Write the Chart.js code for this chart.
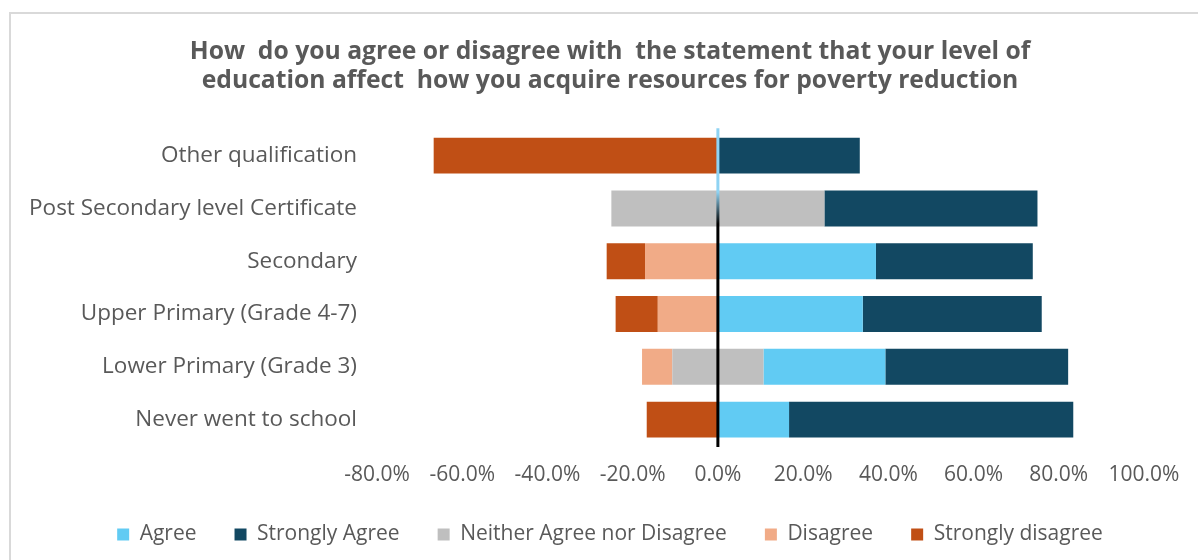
<!DOCTYPE html>
<html>
<head>
<meta charset="utf-8">
<script src="https://cdn.jsdelivr.net/npm/chart.js@4.4.1/dist/chart.umd.min.js"></script>
<style>
    html, body { margin: 0; padding: 0; background: #fff; overflow: hidden; width: 1198px; height: 560px; }
    #frame { position: absolute; left: 9px; top: 12px; width: 1300px; height: 700px; border-left: 2px solid #d9d9d9; border-top: 2px solid #d9d9d9; }
    #likert { position: absolute; left: 0; top: 0; }
</style>
</head>
<body>
<div id="frame"></div>
<canvas id="likert" width="1220" height="600"></canvas>
<script>
    const categories = [
        "Other qualification",
        "Post Secondary level Certificate",
        "Secondary",
        "Upper Primary (Grade 4-7)",
        "Lower Primary (Grade 3)",
        "Never went to school"
    ];
    // percentages per education level
    const agree = [0, 0, 37.1, 34.0, 28.6, 16.7];
    const stronglyAgree = [33.3, 50.0, 36.8, 42.0, 42.9, 66.7];
    const neither = [0, 50.0, 0, 0, 21.4, 0];
    const disagree = [0, 0, 17.1, 14.1, 7.1, 0];
    const stronglyDisagree = [66.7, 0, 9.0, 9.9, 0, 16.7];
    const xTicks = [-80, -60, -40, -20, 0, 20, 40, 60, 80, 100];
    const legendOrder = ["Agree", "Strongly Agree", "Neither Agree nor Disagree", "Disagree", "Strongly disagree"];

    const grey = "#595959";
    const font = "'Open Sans', 'Liberation Sans', sans-serif";
    const orNull = v => (v === 0 ? null : v);

    // neither is split half left / half right of zero
    const datasets = [
        { label: "Neither Agree nor Disagree", data: neither.map(v => orNull(-v / 2)), backgroundColor: "#bfbfbf" },
        { label: "Neither Agree nor Disagree", data: neither.map(v => orNull(v / 2)), backgroundColor: "#bfbfbf" },
        { label: "Agree", data: agree.map(orNull), backgroundColor: "#61cbf3" },
        { label: "Strongly Agree", data: stronglyAgree.map(orNull), backgroundColor: "#124862" },
        { label: "Disagree", data: disagree.map(v => orNull(-v)), backgroundColor: "#f1ab87" },
        { label: "Strongly disagree", data: stronglyDisagree.map(v => orNull(-v)), backgroundColor: "#c04f15" }
    ];

    const zeroLine = {
        id: "zeroLine",
        afterDatasetsDraw(chart) {
            const { ctx, chartArea, scales } = chart;
            const x = scales.x.getPixelForValue(0);
            const top = chartArea.top - 1, bottom = chartArea.bottom + 1;
            const g = ctx.createLinearGradient(0, top, 0, bottom);
            g.addColorStop(0, "#8fd3f3");
            g.addColorStop(0.2, "#8fd3f3");
            g.addColorStop(0.3, "#000000");
            g.addColorStop(1, "#000000");
            ctx.save();
            ctx.strokeStyle = g;
            ctx.lineWidth = 3;
            ctx.beginPath();
            ctx.moveTo(x, top);
            ctx.lineTo(x, bottom);
            ctx.stroke();
            ctx.restore();
        }
    };

    new Chart(document.querySelector("#likert"), {
        type: "bar",
        data: { labels: categories, datasets: datasets },
        plugins: [zeroLine],
        options: {
            responsive: false,
            animation: false,
            indexAxis: "y",
            layout: { padding: { left: 0, right: 0, top: 2, bottom: 45 } },
            datasets: { bar: { categoryPercentage: 0.68, barPercentage: 1 } },
            scales: {
                x: {
                    stacked: true,
                    min: -80,
                    max: 100,
                    grid: { display: false, drawTicks: false },
                    border: { display: false },
                    afterBuildTicks: s => { s.ticks = xTicks.map(v => ({ value: v })); },
                    afterFit: s => { s.height = 40; },
                    ticks: {
                        padding: 16,
                        color: grey,
                        font: { family: font, size: 21, lineHeight: 1.2 },
                        maxRotation: 0,
                        callback: v => v.toFixed(1) + "%"
                    }
                },
                y: {
                    stacked: true,
                    grid: { display: false, drawTicks: false },
                    border: { display: false },
                    afterFit: s => { s.width = 377; },
                    ticks: { padding: 20, color: grey, font: { family: font, size: 22.5 } }
                },
                // empty right-hand gutter so title and legend stay centred on the whole frame
                gutter: {
                    type: "category",
                    position: "right",
                    grid: { display: false, drawTicks: false },
                    border: { display: false },
                    ticks: { display: false },
                    afterFit: s => { s.width = 76; }
                }
            },
            plugins: {
                tooltip: { enabled: false },
                title: {
                    display: true,
                    text: [
                        "How  do you agree or disagree with  the statement that your level of",
                        "education affect  how you acquire resources for poverty reduction"
                    ],
                    color: grey,
                    font: { family: font, size: 24.7, weight: "bold", lineHeight: 1.2 },
                    padding: { top: 35, bottom: 33 }
                },
                legend: {
                    position: "bottom",
                    labels: {
                        color: grey,
                        font: { family: font, size: 21 },
                        boxWidth: 12,
                        boxHeight: 12,
                        padding: 38,
                        filter: (item) => item.datasetIndex !== 0,
                        sort: (a, b) => legendOrder.indexOf(a.text) - legendOrder.indexOf(b.text)
                    }
                }
            }
        }
    });
</script>
</body>
</html>
